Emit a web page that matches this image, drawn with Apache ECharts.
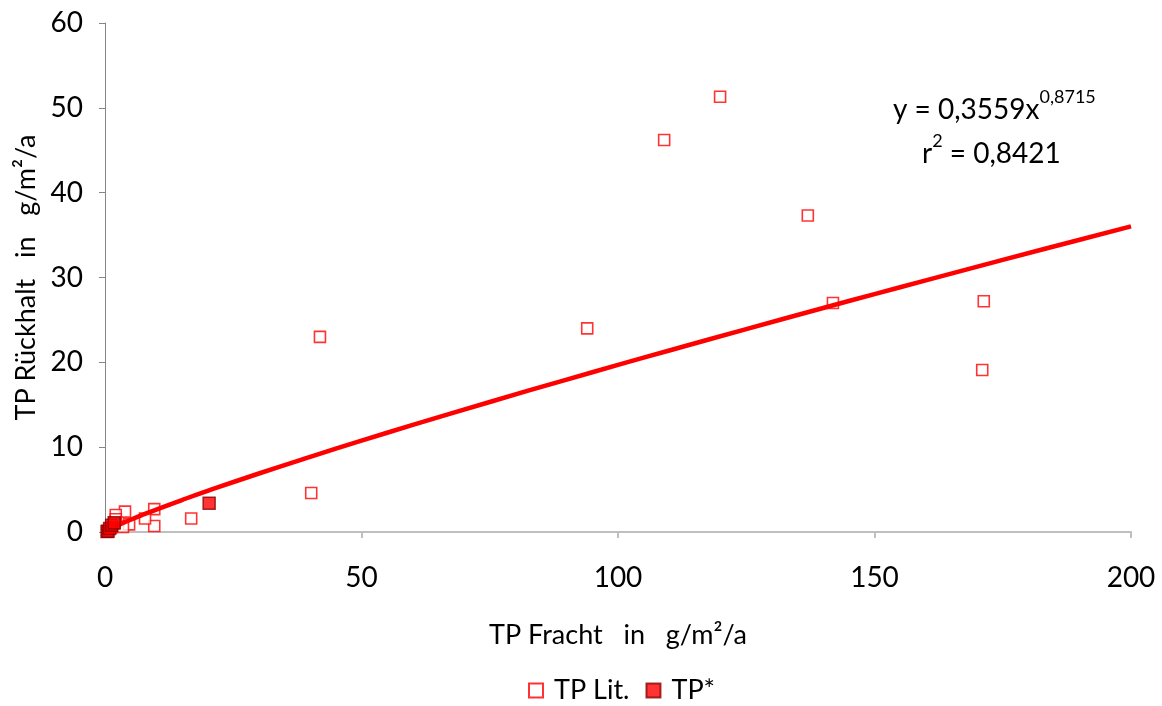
<!DOCTYPE html>
<html>
<head>
<meta charset="utf-8">
<script src="https://cdn.jsdelivr.net/npm/echarts@6/dist/echarts.min.js"></script>
<style>
  html, body { margin: 0; padding: 0; background: #fff; }
  #chart { width: 1162px; height: 706px; }
</style>
</head>
<body>
<div id="chart"></div>
<script>
// TP Fracht (x) vs. TP Rückhalt (y), both in g/m²/a
const tpLit = [
  [119.9, 51.3], [109.0, 46.2], [137.0, 37.3], [141.9, 27.0], [171.3, 27.2],
  [171.0, 19.1], [94.0, 24.0], [41.9, 23.0], [40.2, 4.6], [16.8, 1.6],
  [9.6, 2.7], [9.6, 0.7], [7.8, 1.6], [4.7, 0.9], [3.9, 2.4],
  [3.5, 0.6], [2.1, 2.0], [2.1, 1.5], [1.8, 1.0], [1.2, 0.5]
];
const tpStar = [
  [20.3, 3.4], [0.4, 0.05], [0.6, 0.1], [0.9, 0.4], [1.3, 0.8], [1.8, 1.1]
];

// Power-law fit shown in the chart: y = a * x^b
const fitA = 0.3559;
const fitB = 0.8715;
const fitR2 = '0,8421';
const fitX = [1.5, 2, 3, 5, 7.5, 10, 15, 20, 30, 40, 50, 60, 75, 90, 100, 110, 125, 140, 150, 160, 175, 190, 200];
const fitLine = fitX.map(x => [x, fitA * Math.pow(x, fitB)]);

const xTicks = [0, 50, 100, 150, 200];
const yTicks = [0, 10, 20, 30, 40, 50, 60];

const FONT = 'Lato, "Open Sans", sans-serif';
const chart = echarts.init(document.getElementById('chart'), null, { renderer: 'canvas' });

const eqRich = {
  b: { fontSize: 28, fontFamily: FONT, fill: '#000', verticalAlign: 'bottom', lineHeight: 36 },
  s: { fontSize: 18, fontFamily: FONT, fill: '#000', verticalAlign: 'top', lineHeight: 36, padding: [0, 0, 16, 0] }
};

chart.setOption({
  animation: false,
  backgroundColor: '#ffffff',
  textStyle: { fontFamily: FONT },
  grid: { left: 105, right: 31, top: 23, bottom: 174, containLabel: false, outerBoundsMode: 'none' },
  legend: {
    top: 672,
    left: 523,
    itemWidth: 14,
    itemHeight: 14,
    itemGap: 16,
    textStyle: { fontSize: 27, color: '#000', fontFamily: FONT, padding: [0, 0, 0, 6] },
    data: [
      { name: 'TP Lit.', icon: 'rect' },
      { name: 'TP*', icon: 'rect' }
    ]
  },
  xAxis: {
    type: 'value',
    min: xTicks[0],
    max: xTicks[xTicks.length - 1],
    interval: 50,
    name: 'TP Fracht   in   g/m²/a',
    nameLocation: 'middle',
    nameGap: 90,
    nameTextStyle: { fontSize: 27, color: '#000', fontFamily: FONT },
    axisLine: { onZero: false, lineStyle: { color: '#bfbfbf', width: 2 } },
    axisTick: { show: true, inside: false, length: 6, lineStyle: { color: '#bfbfbf', width: 2 } },
    axisLabel: { fontSize: 28, color: '#000', margin: 32, fontFamily: FONT },
    splitLine: { show: false }
  },
  yAxis: {
    type: 'value',
    min: yTicks[0],
    max: yTicks[yTicks.length - 1],
    interval: 10,
    name: 'TP Rückhalt   in   g/m²/a',
    nameLocation: 'middle',
    nameGap: 65,
    nameTextStyle: { fontSize: 27, color: '#000', fontFamily: FONT },
    axisLine: { show: true, lineStyle: { color: '#868686', width: 1 } },
    axisTick: { show: true, inside: false, length: 6, lineStyle: { color: '#868686' } },
    axisLabel: { fontSize: 28, color: '#000', margin: 22, fontFamily: FONT },
    splitLine: { show: false }
  },
  series: [
    {
      name: 'Potenz-Trend',
      type: 'line',
      data: fitLine,
      smooth: true,
      showSymbol: false,
      symbol: 'none',
      lineStyle: { color: '#ff0000', width: 4.5 },
      z: 3,
      silent: true
    },
    {
      name: 'TP Lit.',
      type: 'scatter',
      data: tpLit,
      symbol: 'rect',
      symbolSize: 11,
      itemStyle: { color: '#ffffff', borderColor: '#ff0000', borderWidth: 1.6 },
      z: 2
    },
    {
      name: 'TP*',
      type: 'scatter',
      data: tpStar,
      symbol: 'rect',
      symbolSize: 12,
      itemStyle: { color: '#ff0000', borderColor: '#8b0000', borderWidth: 1.5 },
      z: 4
    }
  ],
  graphic: [
    {
      type: 'text',
      left: 893,
      top: 88,
      style: { text: '{b|y = 0,3559x}{s|0,8715}', rich: eqRich }
    },
    {
      type: 'text',
      left: 922,
      top: 132,
      style: { text: '{b|r}{s|2}{b| = ' + fitR2 + '}', rich: eqRich }
    }
  ]
});
</script>
</body>
</html>
